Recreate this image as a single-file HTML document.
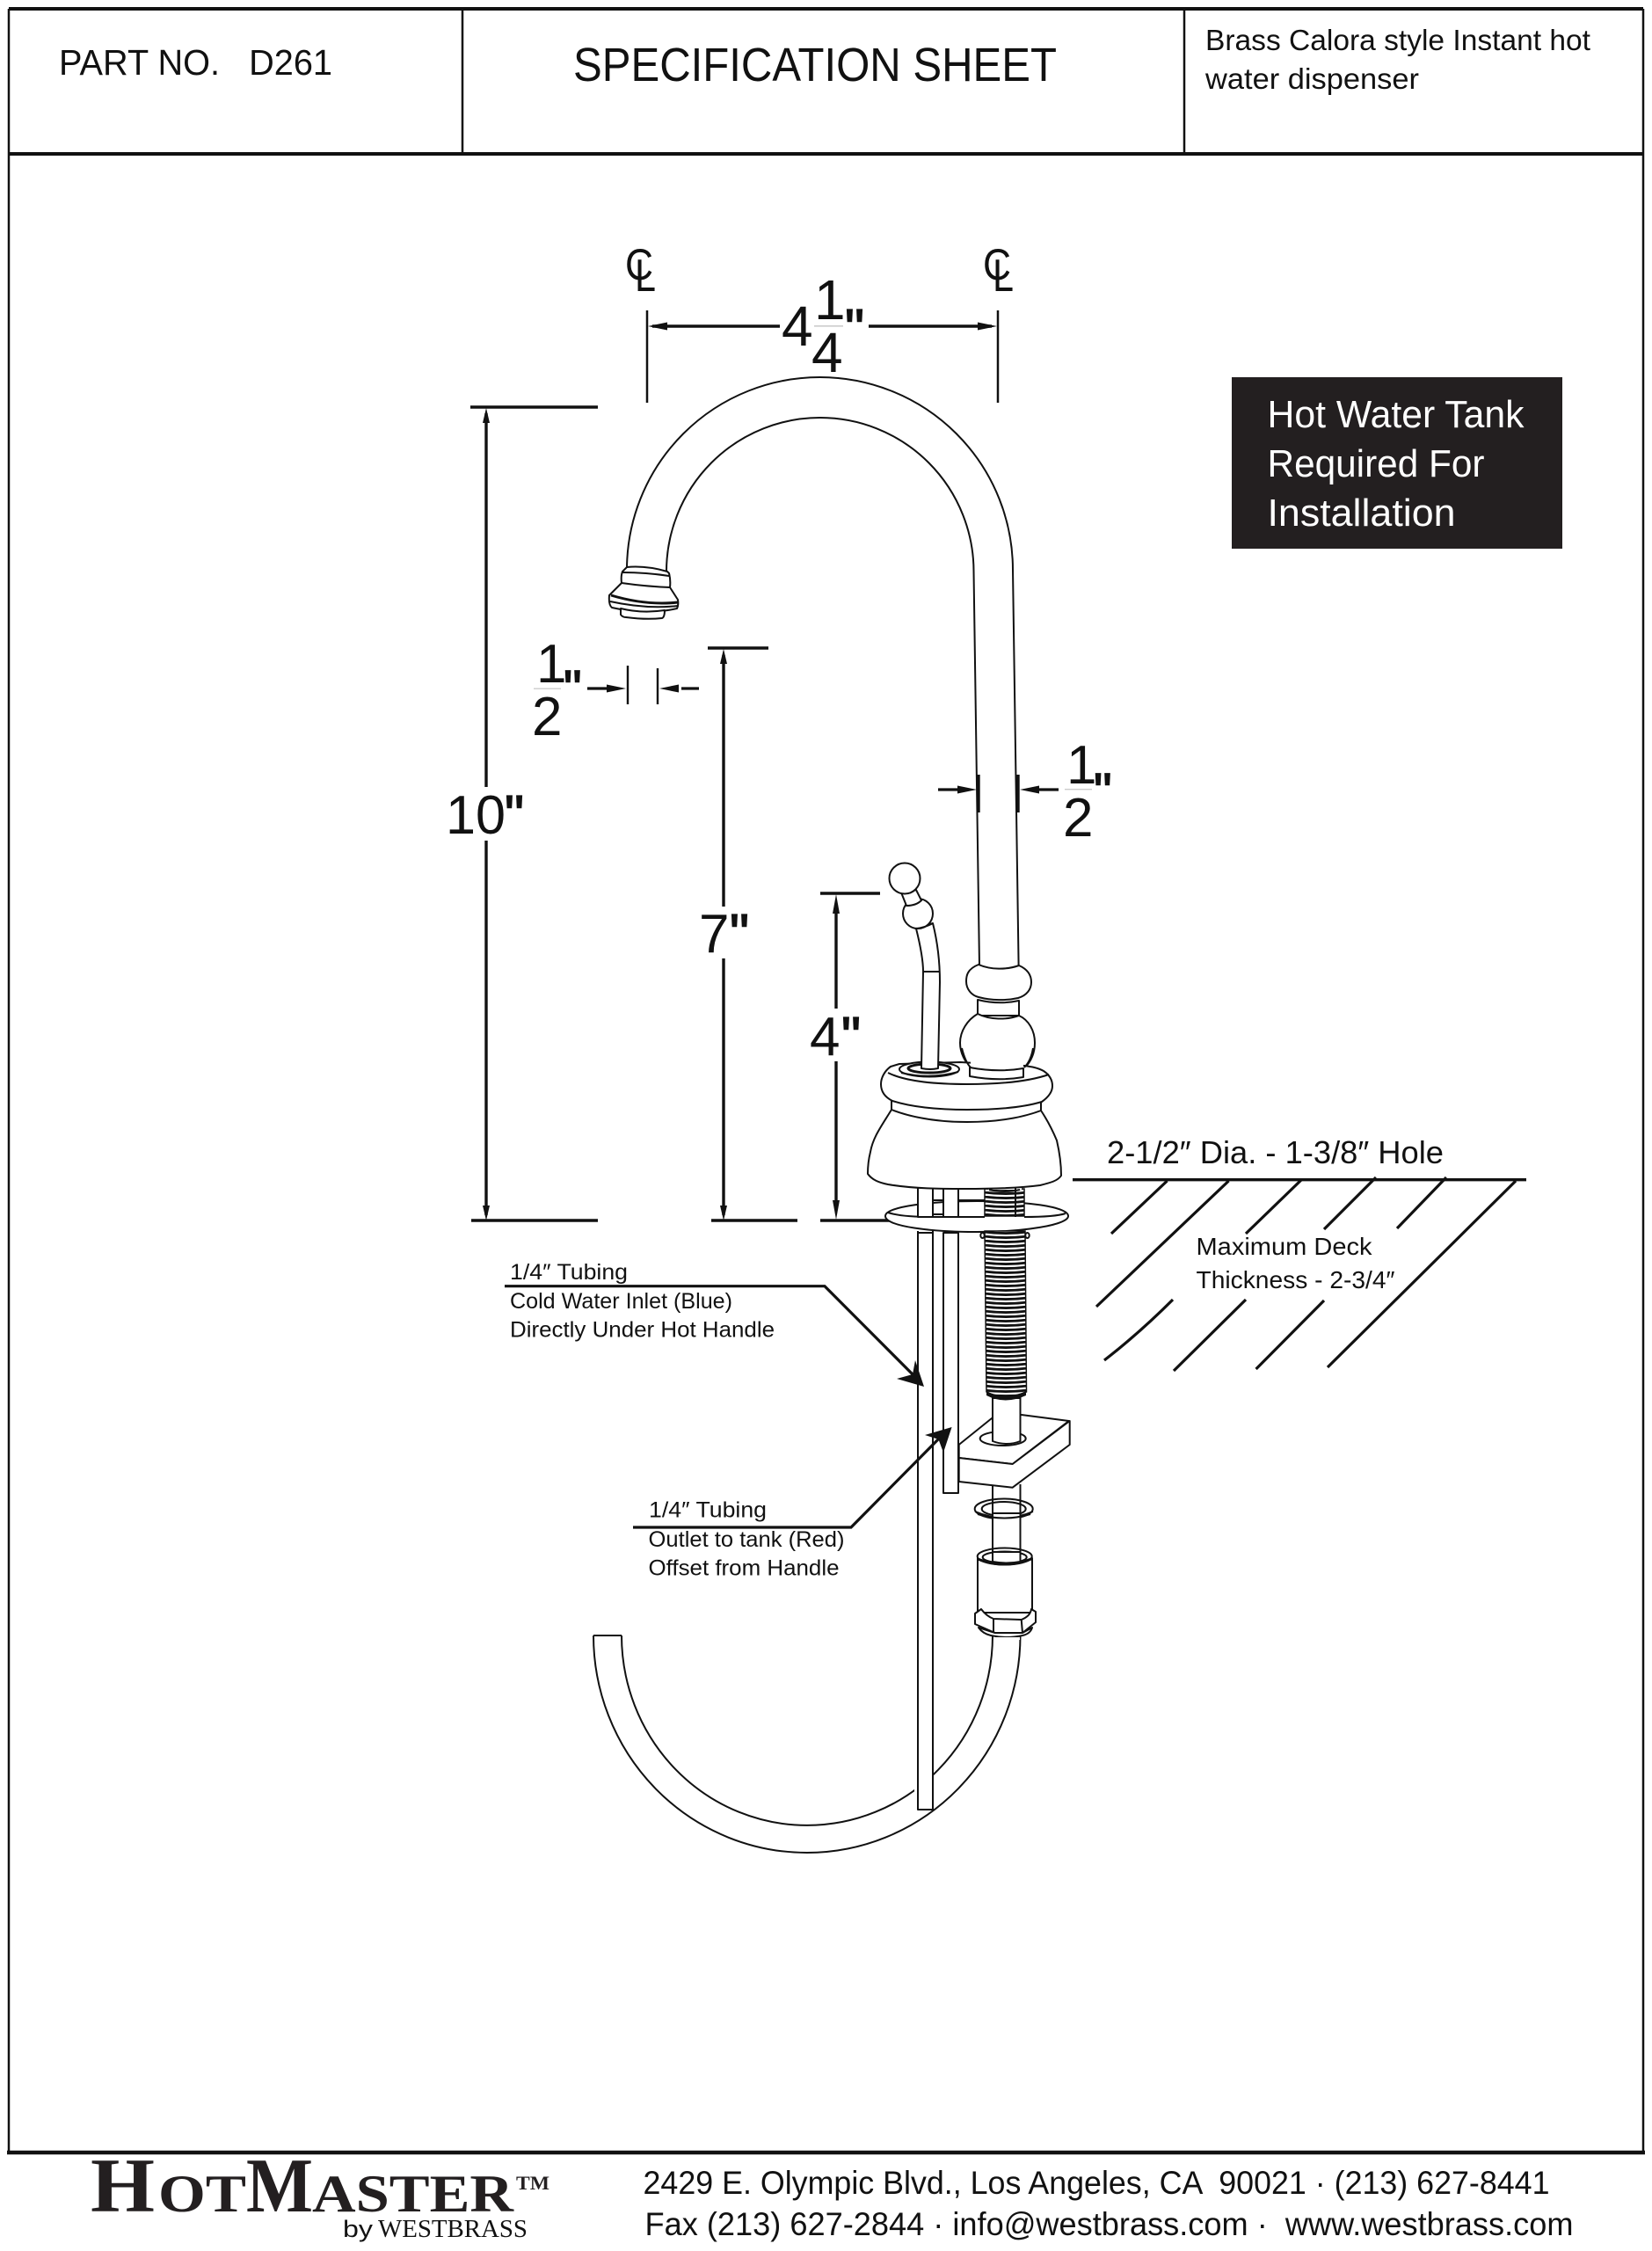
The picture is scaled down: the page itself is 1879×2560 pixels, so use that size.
<!DOCTYPE html>
<html><head><meta charset="utf-8"><title>D261 Specification Sheet</title>
<style>
html,body{margin:0;padding:0;background:#fff}
svg{display:block}
text{font-family:"Liberation Sans",sans-serif;fill:#111}
.f{fill:#fff;stroke:#111;stroke-width:2;stroke-linejoin:round}
.l{fill:none;stroke:#111;stroke-width:2}
.d{fill:none;stroke:#111;stroke-width:3.4}
.t{fill:none;stroke:#111;stroke-width:2.4}
.h{fill:none;stroke:#111;stroke-width:3.2}
.s{font-family:"Liberation Serif",serif;font-weight:bold;fill:#231f20}
.q{stroke:#111;stroke-width:1.4}
</style></head><body>
<svg xmlns="http://www.w3.org/2000/svg" width="1879" height="2560" viewBox="0 0 1879 2560">
<defs>
<pattern id="th" patternUnits="userSpaceOnUse" x="1118" y="1400" width="52" height="5">
<rect width="52" height="5" fill="#fff"/>
<path d="M0 0.8Q26 4.4 52 0.8" fill="none" stroke="#111" stroke-width="2.9"/>
</pattern>
</defs>
<rect width="1879" height="2560" fill="#fff"/>

<!-- frame -->
<path d="M10 10V2448M1869 10V2448M526 10V175M1347 10V175" fill="none" stroke="#111" stroke-width="2.5"/>
<path d="M10 10H1869M10 175H1869" fill="none" stroke="#111" stroke-width="4"/>
<path d="M8 2448H1871" fill="none" stroke="#111" stroke-width="4.5"/>

<!-- header text -->
<text x="67" y="85" font-size="41" textLength="311" lengthAdjust="spacingAndGlyphs" xml:space="preserve">PART NO.   D261</text>
<text x="652" y="92" font-size="54" textLength="550" lengthAdjust="spacingAndGlyphs">SPECIFICATION SHEET</text>
<text x="1371" y="57" font-size="33" textLength="438" lengthAdjust="spacingAndGlyphs">Brass Calora style Instant hot</text>
<text x="1371" y="101" font-size="33" textLength="243" lengthAdjust="spacingAndGlyphs">water dispenser</text>

<!-- hot water box -->
<rect x="1401" y="429" width="376" height="195" fill="#231f20"/>
<text x="1441.5" y="486" font-size="44" style="fill:#fff" textLength="292" lengthAdjust="spacingAndGlyphs">Hot Water Tank</text>
<text x="1441.5" y="542" font-size="44" style="fill:#fff" textLength="247" lengthAdjust="spacingAndGlyphs">Required For</text>
<text x="1441.5" y="598" font-size="44" style="fill:#fff" textLength="214" lengthAdjust="spacingAndGlyphs">Installation</text>

<!-- centerline symbols -->
<text x="711" y="318" font-size="50" textLength="32" lengthAdjust="spacingAndGlyphs">C</text>
<text x="722" y="331" font-size="52" textLength="24" lengthAdjust="spacingAndGlyphs">L</text>
<text x="1118" y="318" font-size="50" textLength="32" lengthAdjust="spacingAndGlyphs">C</text>
<text x="1129" y="331" font-size="52" textLength="24" lengthAdjust="spacingAndGlyphs">L</text>

<!-- 4 1/4 dim -->
<path d="M736 353V458M1135 353V458" fill="none" stroke="#111" stroke-width="2.5"/>
<path d="M742 371H887M988 371H1128" class="d"/>
<polygon points="737,371 759,366.5 759,375.5" fill="#111"/>
<polygon points="1134,371 1112,366.5 1112,375.5" fill="#111"/>
<text x="889" y="393" font-size="64">4</text>
<text x="926" y="363" font-size="64">1</text>
<rect x="926" y="370" width="33" height="1.6" fill="#ccc"/>
<text x="923" y="423" font-size="64">4</text>
<text class="q" x="961" y="395" font-size="62">"</text>

<!-- 10 dim -->
<path d="M535 463H680M536 1388H680" class="d"/>
<path d="M553 470V895M553 956V1382" class="d"/>
<polygon points="553,464 549,481 557,481" fill="#111"/>
<polygon points="553,1388 549,1371 557,1371" fill="#111"/>
<text x="507" y="948" font-size="62" textLength="68" lengthAdjust="spacingAndGlyphs">10</text>
<text class="q" x="574" y="948" font-size="62">"</text>

<!-- 7 dim -->
<path d="M805 737H874M809 1388H907" class="d"/>
<path d="M823 745V1031M823 1090V1382" class="d"/>
<polygon points="823,738 819,755 827,755" fill="#111"/>
<polygon points="823,1388 819,1371 827,1371" fill="#111"/>
<text x="795" y="1083" font-size="62">7</text>
<text class="q" x="830" y="1083" font-size="62">"</text>

<!-- 4 dim -->
<path d="M933 1016H1001M933 1388H1033" class="d"/>
<path d="M951 1030V1147M951 1207V1375" class="d"/>
<polygon points="951,1017 947,1039 955,1039" fill="#111"/>
<polygon points="951,1387 947,1365 955,1365" fill="#111"/>
<text x="921" y="1200" font-size="62">4</text>
<text class="q" x="957" y="1200" font-size="62">"</text>

<!-- 1/2 left dim -->
<text x="610" y="776" font-size="62">1</text>
<rect x="607" y="782.5" width="31" height="1.4" fill="#ccc"/>
<text x="605" y="836" font-size="62">2</text>
<text class="q" x="641" y="803" font-size="58">"</text>
<path d="M668 783H695M775 783H795" class="h"/>
<polygon points="712,783 690,778.5 690,787.5" fill="#111"/>
<polygon points="750,783 772,778.5 772,787.5" fill="#111"/>
<path d="M714 757V801M748 760V801" class="t"/>

<!-- 1/2 right dim -->
<path d="M1067 898H1092M1180 898H1204" class="h"/>
<polygon points="1111,898 1089,893.5 1089,902.5" fill="#111"/>
<polygon points="1160,898 1182,893.5 1182,902.5" fill="#111"/>
<text x="1213" y="891" font-size="62">1</text>
<rect x="1211" y="897" width="31" height="1.4" fill="#ccc"/>
<text x="1209" y="951" font-size="62">2</text>
<text class="q" x="1244" y="920" font-size="58">"</text>

<!-- spout -->
<path class="l" d="M713 648A219.5 219 0 0 1 1152 648L1158.6 1099"/>
<path class="l" d="M758 650A174.75 175 0 0 1 1107.5 650L1114 1099"/>
<path d="M1113 881V924M1158 881V924" class="d"/>

<!-- nozzle -->
<path class="f" d="M713 645Q735 643 759 650L761 652Q763 660 762 668L771 682Q772 688 770 692Q735 700 696 691Q692 688 693 677L707 663Q706 655 708 650Z"/>
<path class="f" d="M706 692V699Q708 702 712 702Q735 705 753 703Q756 702 756 694Q730 698 706 692Z"/>
<path class="l" d="M708 651Q735 651 761 655M707 663Q735 667 762 668"/>
<path d="M695 677Q735 689 771 685" fill="none" stroke="#111" stroke-width="3"/>
<path class="l" d="M694 684Q735 693 771 689"/>

<!-- neck bulbs -->
<path class="f" d="M1113 1097C1100 1102 1099 1110 1099 1116C1099 1125 1105 1132 1113 1134C1128 1138 1145 1138 1158 1135C1168 1132 1173 1125 1173 1117C1173 1108 1168 1102 1159 1098C1145 1103 1127 1103 1113 1097Z"/>
<path class="l" d="M1112 1138Q1136 1143 1159 1139"/>
<path class="f" d="M1112 1137V1155L1159 1155V1138Q1136 1143 1112 1137Z"/>
<path class="f" d="M1112 1153C1100 1160 1092 1173 1092 1186C1092 1198 1098 1208 1104 1214L1165 1215C1172 1208 1177 1198 1177 1186C1177 1172 1170 1160 1159 1155C1145 1160 1126 1160 1112 1153Z"/>
<path class="f" d="M1103 1214V1224Q1135 1230 1164 1225V1215Q1135 1220 1103 1214Z"/>

<!-- flange -->
<path class="f" d="M1007 1383C1007 1372 1060 1366 1111 1366C1165 1366 1215 1372 1215 1383C1215 1393 1165 1401 1111 1401C1060 1401 1007 1395 1007 1383Z"/>
<path class="l" d="M1010 1379Q1025 1384 1060 1384L1120 1384M1165 1384Q1200 1384 1212 1380"/>
<rect class="f" x="1044" y="1344" width="17" height="40"/>
<rect class="f" x="1073" y="1344" width="17" height="40"/>
<path class="l" d="M1061 1365H1073M1090 1365H1120M1061 1381H1073"/>

<!-- thread upper -->
<rect x="1120" y="1352" width="45" height="31" fill="url(#th)" stroke="#111" stroke-width="1.5"/>
<rect x="1124" y="1346" width="38" height="7" fill="#fff"/>
<path class="l" d="M1155 1350V1384M1125 1353Q1142 1357 1160 1353"/>

<!-- bell -->
<path class="f" d="M1014 1262C1003 1280 993 1293 990 1310C988 1318 987 1325 987 1335C992 1342 1000 1345 1010 1347C1040 1352 1070 1352 1097 1352C1130 1352 1160 1351 1183 1348C1195 1345 1203 1343 1207 1337C1207 1325 1205 1310 1202 1297C1197 1285 1190 1272 1184 1263Z"/>
<path class="f" d="M1014 1250V1262C1040 1272 1070 1276 1100 1276C1130 1276 1160 1272 1184 1263V1251Z"/>
<path class="f" d="M1013 1213C1006 1218 1002 1226 1002 1233C1002 1242 1007 1248 1015 1252C1040 1260 1070 1262 1100 1262C1130 1262 1162 1260 1185 1253C1192 1248 1197 1242 1197 1235C1197 1228 1193 1222 1187 1218C1180 1214 1172 1213 1165 1212L1092 1208L1023 1210Z"/>
<path class="l" d="M1010 1220C1030 1230 1065 1233 1100 1233C1135 1233 1170 1230 1193 1222"/>
<rect x="1104" y="1205" width="60" height="8" fill="#fff"/>
<path class="f" d="M1103 1214V1224Q1135 1230 1164 1225V1215Q1135 1220 1103 1214Z"/>
<path class="l" d="M1094 1192C1097 1204 1100 1210 1104 1214M1175 1192C1173 1204 1169 1210 1165 1214"/>

<!-- handle -->
<ellipse cx="1057" cy="1216" rx="34" ry="8.5" class="f"/>
<ellipse cx="1057" cy="1215" rx="24" ry="5" fill="none" stroke="#111" stroke-width="3"/>
<path class="l" d="M1025 1220Q1057 1228 1090 1219"/>
<path class="f" d="M1042 1056C1046 1072 1050 1090 1050 1105L1048 1215Q1058 1217 1067 1215L1069 1117C1069 1095 1066 1070 1061 1050Z"/>
<path class="l" d="M1050 1105H1069"/>
<circle class="f" cx="1044" cy="1039" r="17"/>
<path class="f" d="M1025 1015L1031 1030Q1042 1030 1048 1024L1042 1012Z"/>
<circle class="f" cx="1029" cy="999" r="17.5"/>
<path class="l" d="M1042 1056Q1052 1055 1061 1050"/>

<!-- hose -->
<path class="l" d="M675 1860H707"/>
<path class="l" d="M675 1860A242.75 247 0 0 0 1160.5 1860"/>
<path class="l" d="M707 1860A211 216 0 0 0 1129 1860"/>
<rect x="1040" y="2015" width="8" height="30" fill="#fff"/>

<!-- long tube 1 -->
<rect class="f" x="1044" y="1402" width="17" height="656"/>
<path d="M1044 1400V1403M1061 1400V1403" class="l"/>

<!-- shaft -->
<path class="l" d="M1129 1585V1640M1160.5 1585V1640M1129 1688V1740M1160.5 1688V1740"/>

<!-- bracket -->
<path class="f" d="M1128 1613L1090.7 1643V1658L1151.7 1665L1215.7 1616L1161.7 1609Z"/>
<path class="f" d="M1090.7 1658V1685L1151.7 1691.7L1216.7 1643V1616L1151.7 1665Z"/>
<ellipse class="f" cx="1140.7" cy="1636" rx="26" ry="8"/>
<path class="f" d="M1129 1590V1639Q1145 1645 1160.5 1639V1590Z" stroke-width="0"/>
<path class="l" d="M1129 1590V1638M1160.5 1590V1638"/>

<!-- short tube 2 -->
<rect class="f" x="1073" y="1402" width="17" height="296"/>

<!-- thread lower -->
<path d="M1120 1400H1166L1167.5 1583Q1143 1596 1122 1583Z" fill="url(#th)" stroke="#111" stroke-width="1.5"/>
<path d="M1122 1582Q1143 1593 1167 1582V1587Q1143 1598 1122 1587Z" fill="#111"/>
<ellipse cx="1117.5" cy="1405" rx="2.2" ry="3" class="l" stroke-width="1.2"/>
<ellipse cx="1168.5" cy="1405" rx="2.2" ry="3" class="l" stroke-width="1.2"/>

<!-- washer -->
<ellipse class="l" cx="1141.7" cy="1716" rx="33" ry="11.5"/>
<ellipse class="l" cx="1141.7" cy="1716" rx="25" ry="8"/>
<path class="l" d="M1109 1719Q1142 1733 1175 1719"/>
<path class="f" d="M1129 1721V1772H1160.5V1721Z" stroke-width="0"/>
<path class="l" d="M1129 1695V1721M1160.5 1695V1721M1129 1727V1775M1160.5 1727V1775"/>
<path class="l" d="M1112 1722Q1142 1731 1172 1722"/>

<!-- nut -->
<path class="f" d="M1112 1772V1834H1174V1772Z"/>
<ellipse class="f" cx="1142.7" cy="1770" rx="31" ry="9.5"/>
<ellipse class="l" cx="1142.7" cy="1771" rx="25" ry="6.5"/>
<path class="f" d="M1129 1765V1776Q1145 1779 1160.5 1776V1765Z" stroke="none"/>
<path class="l" d="M1129 1762V1776M1160.5 1762V1776"/>
<path d="M1112 1773Q1142 1785 1173 1773" fill="none" stroke="#111" stroke-width="3"/>
<path class="f" d="M1109 1835L1116 1830Q1122 1838 1130 1841L1161.7 1842Q1172 1838 1173 1830L1178 1833V1845L1163 1857H1131.7L1109 1847Z"/>
<path class="l" d="M1130 1841V1857M1161.7 1842L1163 1857"/>
<path class="f" d="M1113 1851Q1118 1858 1127 1860Q1145 1864 1163 1860Q1172 1858 1174 1851L1163 1857H1131.7Z"/>
<rect x="1130" y="1862" width="30" height="3" fill="#fff"/>

<!-- deck -->
<path d="M1220 1341.7H1736" class="d"/>
<path class="h" d="M1327.5 1343L1264 1403M1397.5 1343L1247 1486M1480 1342L1417 1403M1565 1339L1506 1398M1645 1339L1589 1397M1724 1343L1510 1555M1334 1478Q1296 1516 1256 1547M1417 1478L1335 1559M1506 1479L1428.6 1557"/>
<text x="1259" y="1323" font-size="36" textLength="383" lengthAdjust="spacingAndGlyphs">2-1/2″ Dia. - 1-3/8″ Hole</text>
<text x="1360.5" y="1427" font-size="28" textLength="200" lengthAdjust="spacingAndGlyphs">Maximum Deck</text>
<text x="1360.5" y="1465" font-size="28" textLength="226" lengthAdjust="spacingAndGlyphs">Thickness - 2-3/4″</text>

<!-- leaders -->
<path class="h" d="M574 1462.7H938L1040 1565"/>
<polygon points="1051,1577 1041,1547 1038,1563 1020,1568" fill="#111"/>
<path class="h" d="M720 1737H968L1069 1635"/>
<polygon points="1082.6,1623 1052,1632 1067.5,1637 1073,1652" fill="#111"/>
<text x="580" y="1455" font-size="25" textLength="134" lengthAdjust="spacingAndGlyphs">1/4″ Tubing</text>
<text x="580" y="1488" font-size="25" textLength="253" lengthAdjust="spacingAndGlyphs">Cold Water Inlet (Blue)</text>
<text x="580" y="1520.7" font-size="25" textLength="301" lengthAdjust="spacingAndGlyphs">Directly Under Hot Handle</text>
<text x="738" y="1725.7" font-size="25" textLength="134" lengthAdjust="spacingAndGlyphs">1/4″ Tubing</text>
<text x="737.5" y="1759" font-size="25" textLength="223" lengthAdjust="spacingAndGlyphs">Outlet to tank (Red)</text>
<text x="737.5" y="1791.7" font-size="25" textLength="217" lengthAdjust="spacingAndGlyphs">Offset from Handle</text>

<!-- footer -->
<text class="s" x="103" y="2515" font-size="88" textLength="73" lengthAdjust="spacingAndGlyphs">H</text>
<text class="s" x="180" y="2515" font-size="60" textLength="100" lengthAdjust="spacingAndGlyphs">OT</text>
<text class="s" x="280" y="2515" font-size="88" textLength="76" lengthAdjust="spacingAndGlyphs">M</text>
<text class="s" x="355" y="2515" font-size="60" textLength="229" lengthAdjust="spacingAndGlyphs">ASTER</text>
<text class="s" x="587" y="2490" font-size="22" textLength="38" lengthAdjust="spacingAndGlyphs">TM</text>
<text x="390" y="2544" font-size="27" textLength="34" lengthAdjust="spacingAndGlyphs">by</text>
<text x="430" y="2544" font-size="28" style="font-family:'Liberation Serif',serif" textLength="170" lengthAdjust="spacingAndGlyphs">WESTBRASS</text>
<text x="731.5" y="2495" font-size="37" textLength="1031" lengthAdjust="spacingAndGlyphs" xml:space="preserve">2429 E. Olympic Blvd., Los Angeles, CA  90021 · (213) 627-8441</text>
<text x="733.5" y="2542" font-size="37" textLength="1056" lengthAdjust="spacingAndGlyphs" xml:space="preserve">Fax (213) 627-2844 · info@westbrass.com ·  www.westbrass.com</text>
</svg>
</body></html>
